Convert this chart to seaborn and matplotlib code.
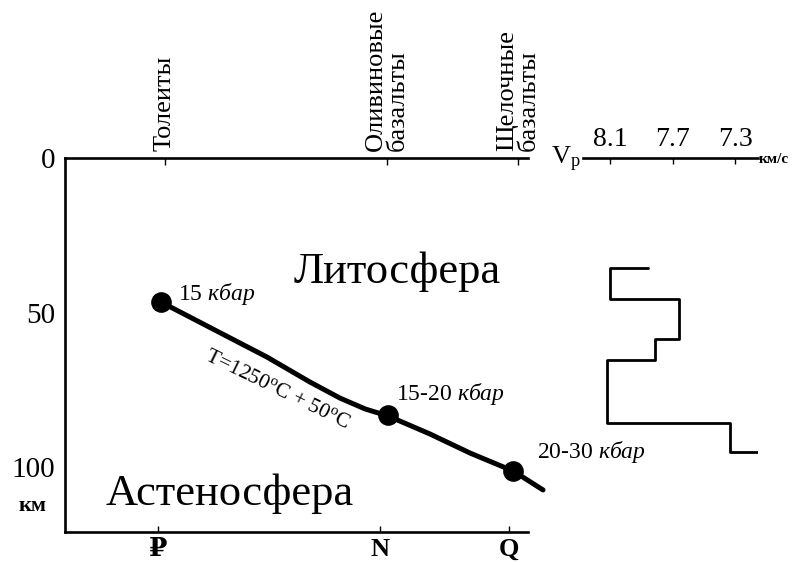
import matplotlib
matplotlib.use("Agg")
import matplotlib.pyplot as plt
import seaborn as sns

# rock series (top) and ages (bottom)
series_labels = ["Толеиты", "Оливиновые\nбазальты", "Щелочные\nбазальты"]
series_pos = [21.6, 69.5, 97.8]
age_labels = ["₽", "N", "Q"]
age_pos = [20.1, 68.0, 95.9]

# melting level curve (composition index vs depth, km)
curve_x = [20.7, 32.4, 43.6, 52.9, 59.4, 64.8, 69.8, 78.8, 87.5, 96.8, 103.2]
curve_depth = [46.6, 55.7, 64.4, 72.5, 77.7, 81.2, 83.5, 89.3, 95.5, 101.3, 107.4]
point_x = [20.7, 69.8, 96.8]
point_depth = [46.6, 83.2, 101.3]
point_labels = [r"15 $\mathit{кбар}$", r"15-20 $\mathit{кбар}$", r"20-30 $\mathit{кбар}$"]

depth_ticks = [0, 50, 100]

# Vp profile
vp_ticks = [8.1, 7.7, 7.3]
vp_levels = [7.86, 8.1, 7.66, 7.81, 8.12, 7.33, 7.07]
step_depths = [35.6, 45.6, 58.6, 65.4, 85.8, 95.1]

sns.set_theme(style="white")
plt.rcParams["font.family"] = ["Liberation Serif", "DejaVu Serif"]
plt.rcParams["text.color"] = "black"
plt.rcParams["xtick.color"] = "black"
plt.rcParams["ytick.color"] = "black"
plt.rcParams["mathtext.fontset"] = "custom"
plt.rcParams["mathtext.rm"] = "Liberation Serif"
plt.rcParams["mathtext.it"] = "Liberation Serif:italic"

fig = plt.figure(figsize=(8, 5.62), dpi=100)
ax = fig.add_axes([0.08125, 0.0534, 0.579, 0.6655])

sns.lineplot(x=curve_x, y=curve_depth, sort=False, estimator=None, color="black", lw=3.6,
             ax=ax, clip_on=False, solid_joinstyle="round")
sns.scatterplot(x=point_x, y=point_depth, color="black", s=190, edgecolor="black", ax=ax,
                zorder=5, clip_on=False)

ax.set_xlim(0, 100)
ax.set_ylim(121, 0)
ax.spines["right"].set_visible(False)
for s in ["left", "top", "bottom"]:
    ax.spines[s].set_color("black")
    ax.spines[s].set_linewidth(1.9)

ax.set_yticks(depth_ticks)
ax.set_yticklabels([str(d) for d in depth_ticks], fontsize=21)
ax.tick_params(axis="y", direction="inout", length=10, width=1.8, pad=2)
ax.set_xticks(age_pos)
ax.set_xticklabels(age_labels, fontsize=19, fontweight="bold")
ax.tick_params(axis="x", direction="in", length=4, width=1, pad=4)
ax.text(-0.07, 112.5, "км", fontsize=16, fontweight="bold", ha="center", va="center",
        transform=ax.get_yaxis_transform())

top = ax.twiny()
top.set_xlim(ax.get_xlim())
for s in ["left", "right", "bottom", "top"]:
    top.spines[s].set_visible(False)
top.set_xticks(series_pos)
top.set_xticklabels(series_labels, fontsize=19, rotation=90, linespacing=1.0)
for lab in top.get_xticklabels():
    lab.set_multialignment("left")
top.tick_params(axis="x", direction="in", length=5, width=1, pad=5)

ax.text(71.7, 40.5, "Литосфера", fontsize=32, ha="center", va="baseline")
ax.text(35.6, 112.3, "Астеносфера", fontsize=32, ha="center", va="baseline")

offsets = [(3.6, -0.8), (1.6, -4.9), (5.0, -4.1)]
for x, d, lab, (dx, dd) in zip(point_x, point_depth, point_labels, offsets):
    ax.text(x + dx, d + dd, lab, fontsize=17, ha="left", va="baseline", zorder=6)

ax.text(45.7, 75.1, r"T=1250$^{\rm o}$C + 50$^{\rm o}$C", fontsize=15.5, rotation=-26,
        rotation_mode="anchor", ha="center", va="center")

# Vp panel
vax = fig.add_axes([0.72875, 0.0534, 0.21875, 0.6655])
vax.patch.set_visible(False)
step_x = [vp_levels[0]]
step_y = [step_depths[0]]
for i in range(1, len(vp_levels)):
    step_x.append(vp_levels[i])
    step_y.append(step_depths[i - 1])
    if i < len(step_depths):
        step_x.append(vp_levels[i])
        step_y.append(step_depths[i])
sns.lineplot(x=step_x, y=step_y, sort=False, estimator=None, color="black", lw=2, ax=vax)
vax.set_xlim(8.273, 7.153)
vax.set_ylim(121, 0)
for s in ["left", "right", "bottom"]:
    vax.spines[s].set_visible(False)
vax.spines["top"].set_color("black")
vax.spines["top"].set_linewidth(1.9)
vax.set_yticks([])
vax.xaxis.set_ticks_position("top")
vax.set_xticks(vp_ticks)
vax.set_xticklabels([f"{v:.1f}" for v in vp_ticks], fontsize=20)
vax.tick_params(axis="x", direction="in", length=4, width=1, pad=4)
vax.text(-0.01, 0.995, r"V$_{\rm p}$", fontsize=19, ha="right", va="center", transform=vax.transAxes)
vax.text(1.005, 0.995, "км/с", fontsize=11, fontweight="bold", ha="left", va="center",
         transform=vax.transAxes)

fig.savefig("out.png", dpi=100)
